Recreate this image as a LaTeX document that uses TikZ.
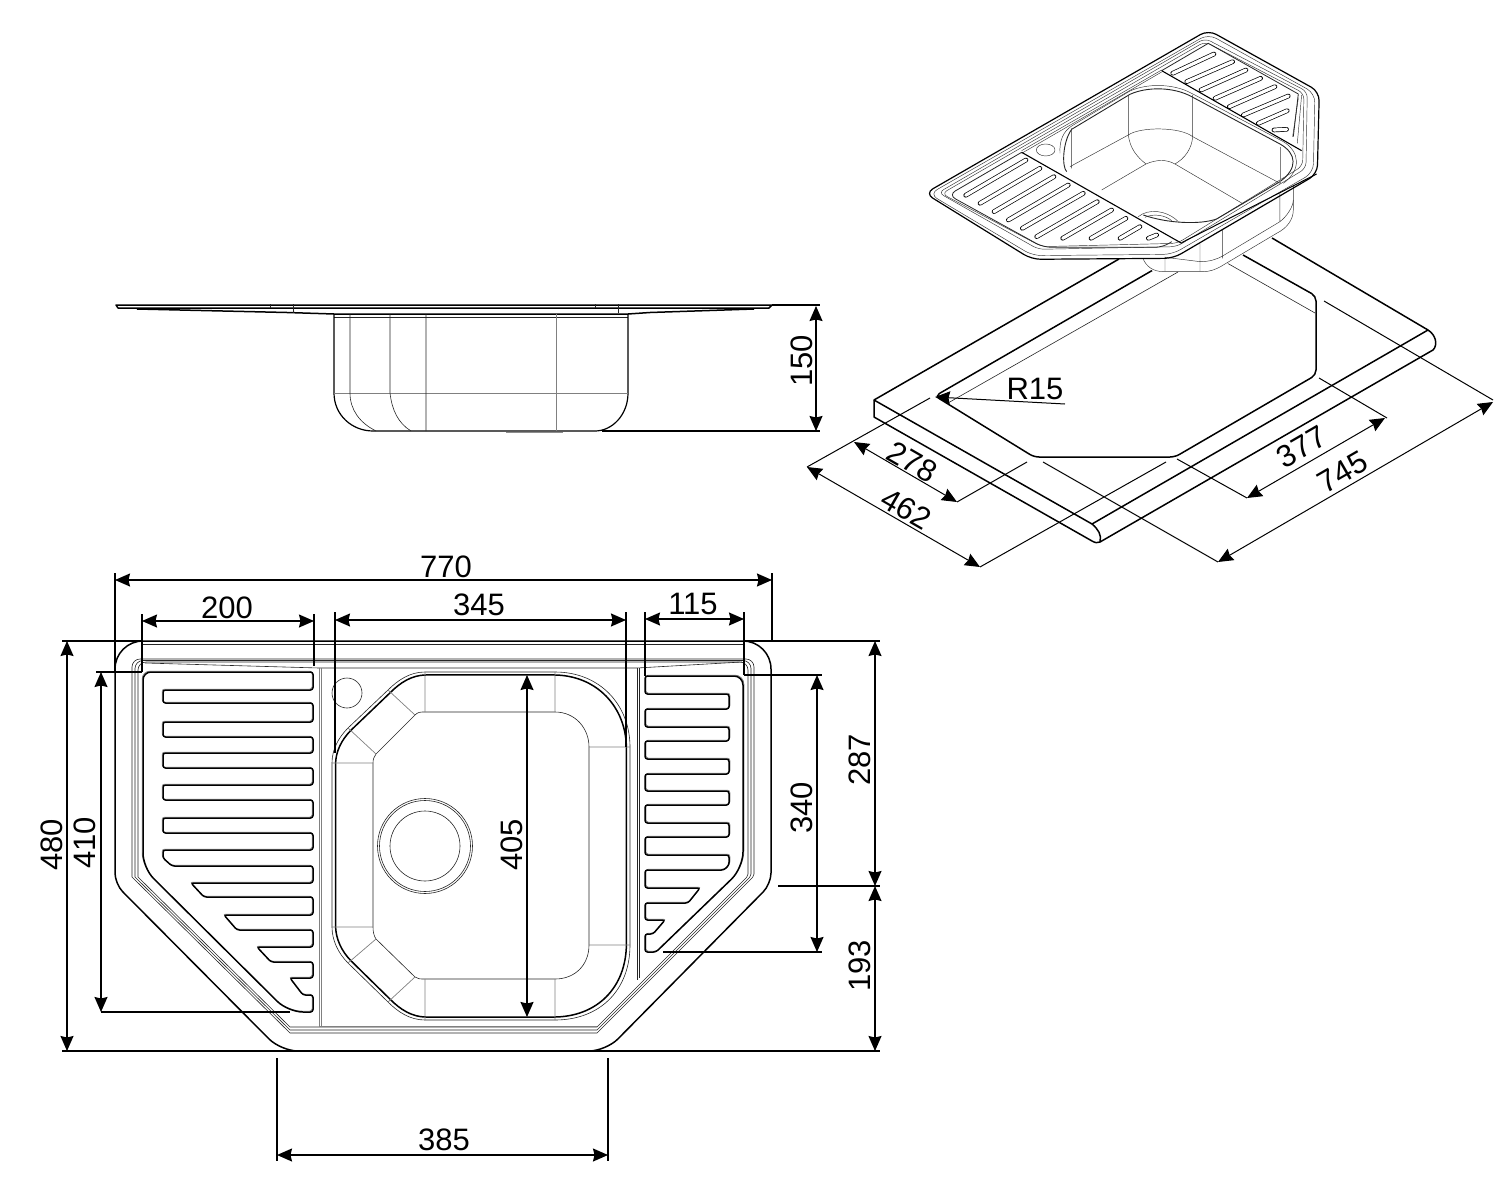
\documentclass[tikz,border=0pt]{standalone}
\usepackage{fontspec}
\setmainfont{Liberation Sans}
\usetikzlibrary{arrows.meta}
\tikzset{
  heavy/.style={line width=1.5pt, black},
  thin line/.style={line width=.6pt, black!85},
  fine line/.style={line width=.45pt, black!80},
  grey line/.style={line width=.7pt, black!50},
  dimline/.style={line width=1.3pt, {Stealth[length=15pt,width=13pt,inset=1.5pt]}-{Stealth[length=15pt,width=13pt,inset=1.5pt]}},
  extline/.style={line width=1.2pt},
  dimtext/.style={inner sep=0pt, font=\fontsize{31}{32}\selectfont},
  slot/.style={double, double distance=3.2pt, line width=.7pt, line cap=round}
}
\newcommand{\leftboard}{(143,682) [rounded corners=8pt] -- (143,672) [rounded corners=2.5pt] -- (313,672) -- (313,690) -- (163,690) -- (163,703) -- (313,703) -- (313,722) -- (163,722) -- (163,737) -- (313,737) -- (313,753) -- (163,753) -- (163,768) -- (313,768) -- (313,785) -- (163,785) -- (163,800) -- (313,800) -- (313,818) -- (163,818) -- (163,833) -- (313,833) -- (313,850) -- (163,850) -- (163,858) -- (172,866) -- (313,866) -- (313,883) -- (191,883) -- (204,897) -- (313,897) -- (313,915) -- (224,915) -- (237,930) -- (313,930) -- (313,947) -- (257,947) -- (271,962) -- (313,962) -- (313,978) -- (290,978) -- (303,995) -- (313,995) -- (313,1012) [rounded corners=15pt] -- (288,1012) -- (143,868) [sharp corners] -- (143,682)}
\newcommand{\rightboard}{(743,690) [rounded corners=9pt] -- (743,676) [rounded corners=2.5pt] -- (645,676) -- (645,694) -- (729,694) -- (729,709) -- (645,709) -- (645,727) -- (729,727) -- (729,741) -- (645,741) -- (645,759) -- (729,759) -- (729,774) -- (645,774) -- (645,791) -- (729,791) -- (729,805) -- (645,805) -- (645,823) -- (729,823) -- (729,837) -- (645,837) -- (645,855) -- (729,855) -- (729,865) -- (724,870) -- (645,870) -- (645,888) -- (700,888) -- (688,903) -- (645,903) -- (645,920) -- (665,920) -- (653,934) -- (645,934) -- (645,952) -- (656,952) [rounded corners=16pt] -- (743,868) [sharp corners] -- (743,690)}
\newcommand{\bowlrim}{(425,672) -- (555,672) .. controls (600,672) and (630,705) .. (630,747) -- (630,945) .. controls (630,990) and (600,1020) .. (555,1020) -- (425,1020) .. controls (410,1020) and (398,1012) .. (388,1002) -- (348,963) .. controls (338,953) and (332,940) .. (332,927) -- (332,763) .. controls (332,750) and (338,738) .. (348,728) -- (388,690) .. controls (398,680) and (410,672) .. (425,672) -- cycle}
\begin{document}
\begin{tikzpicture}[x=1pt, y=-1pt]
  \useasboundingbox (0,0) rectangle (1500,1199);
  % plan
  \draw [heavy] (440,641) [rounded corners=28pt] -- (771,641) [rounded corners=11pt] -- (771,884) [rounded corners=17pt] -- (606,1051) -- (281,1051) [rounded corners=11pt] -- (115,884) [rounded corners=28pt] -- (115,641) [sharp corners] -- (440,641);
  \draw [thin line] (142,644.5) -- (745,644.5);
  \foreach \d in {0,3,6} \draw [thin line] (440,659+\d/2) [rounded corners=8pt] -- (754-\d,659+\d/2) [rounded corners=2pt] -- (754-\d,876) [sharp corners] -- (597,1033-\d) -- (290,1033-\d) -- (132+\d,877) [rounded corners=8pt] -- (132+\d,659+\d/2) [sharp corners] -- (440,659+\d/2);
  \draw [thin line] (145,663) -- (319,668) -- (637,668) -- (742,662);
  \draw [grey line] (319,668) -- (319,1026) (321,668) -- (321,1026);
  \draw [thin line] (637,668) -- (637,980) (639,668) -- (639,978);
  \draw [grey line] (319,1026) -- (597,1026);
  \draw [grey line, transform canvas={shift={(-.9pt,.9pt)}}] \leftboard;
  \draw [heavy] \leftboard;
  \draw [grey line, transform canvas={shift={(.9pt,.9pt)}}] \rightboard;
  \draw [heavy] \rightboard;
  \draw [thin line] \bowlrim;
  \draw [heavy, shift={(481,846)}, xscale=.976, yscale=.983, shift={(-481,-846)}] \bowlrim;
  \draw [thin line] (425,712) -- (555,712) .. controls (575,712) and (589,728) .. (589,747) -- (589,945) .. controls (589,965) and (575,979) .. (555,979) -- (425,979) .. controls (420,979) and (418,979) .. (415,977) -- (376,939) .. controls (374,936) and (373,932) .. (373,927) -- (373,763) .. controls (373,759) and (374,757) .. (376,754) -- (415,715) .. controls (418,712) and (420,712) .. (425,712) -- cycle;
  \draw [grey line] (425,672) -- (425,712) (555,672) -- (555,712) (589,747) -- (630,747) (589,945) -- (630,945) (555,979) -- (555,1020) (425,979) -- (425,1020) (332,763) -- (373,763) (332,927) -- (373,927) (388,690) -- (415,715) (348,728) -- (376,754) (348,963) -- (376,939) (388,1002) -- (415,977);
  \draw [thin line] (425,846) circle [radius=47.5] (425,846) circle [radius=45.5] (425,846) circle [radius=35];
  \draw [thin line] (347,693) circle [radius=15];
  % plan dimensions
  \draw [extline] (115,573) -- (115,672) (772,573) -- (772,641);
  \draw [dimline] (115,580) -- (772,580);
  \node (dim770) [dimtext] at (446,567) {770};
  \draw [extline] (142,614) -- (142,672) (314,614) -- (314,666);
  \draw [dimline] (142,621) -- (314,621);
  \node (dim200) [dimtext] at (227,608) {200};
  \draw [extline] (335,612) -- (335,753) (626,612) -- (626,747);
  \draw [dimline] (335,620) -- (626,620);
  \node (dim345) [dimtext] at (479,605) {345};
  \draw [extline] (645,612) -- (645,676) (744,612) -- (744,675);
  \draw [dimline] (645,619) -- (744,619);
  \node (dim115) [dimtext] at (693,604) {115};
  \draw [extline] (62,641) -- (142,641) (62,1051) -- (880,1051) (96,672) -- (142,672) (101,1012) -- (290,1012);
  \draw [dimline] (67,641) -- (67,1051);
  \node (dim480) [dimtext, rotate=90] at (52,845) {480};
  \draw [dimline] (101,672) -- (101,1012);
  \node (dim410) [dimtext, rotate=90] at (85,843) {410};
  \draw [dimline] (527,675) -- (527,1017);
  \node (dim405) [dimtext, rotate=90] at (512,845) {405};
  \draw [extline] (744,675) -- (822,675) (663,952) -- (822,952) (745,641) -- (880,641) (778,886) -- (880,886);
  \draw [dimline] (817,675) -- (817,952);
  \node (dim340) [dimtext, rotate=90] at (802,808) {340};
  \draw [dimline] (875,641) -- (875,886);
  \node (dim287) [dimtext, rotate=90] at (860,760) {287};
  \draw [dimline] (875,886) -- (875,1051);
  \node (dim193) [dimtext, rotate=90] at (860,966) {193};
  \draw [extline] (277,1058) -- (277,1161) (608,1058) -- (608,1161);
  \draw [dimline] (277,1155) -- (608,1155);
  \node (dim385) [dimtext] at (444,1140) {385};
  % side view
  \draw [heavy, line join=round] (116,305) -- (772,305) -- (769,308) -- (118,308) -- cycle;
  \draw [heavy] (137,309) -- (287,312.5) -- (334,314) -- (628,314) -- (650,312.5) -- (754,309);
  \draw [thin line] (270,304) -- (270,308) (293,304) -- (293,313) (595,304) -- (595,308) (618,304) -- (618,313) (334,317) -- (628,317);
  \draw [heavy, line width=1.2pt] (334,314) -- (334,393) .. controls (334,415) and (352,431) .. (373,431) -- (595,431) .. controls (612,431) and (628,415) .. (628,393) -- (628,314);
  \draw [grey line] (334,393) -- (628,393) (556,314) -- (556,431);
  \draw [thin line] (350,314) -- (350,393) .. controls (350,410) and (360,423) .. (376,431) (390,314) -- (390,393) .. controls (392,410) and (398,423) .. (411,431) (426,314) -- (426,431);
  \draw [line width=1.5pt, black!45] (506,432.5) -- (563,432.5);
  \draw [extline] (772,305) -- (820,305) (602,431) -- (820,431);
  \draw [dimline] (816,306) -- (816,431);
  \node (dim150) [dimtext, rotate=90] at (802,361) {150};
  % worktop
  \draw [heavy, line join=round] (1119,259) -- (874,400) -- (874,417) -- (1092,541) .. controls (1095,543) and (1098,543) .. (1100,542) -- (1433,350) .. controls (1438,345) and (1436,335) .. (1428,330) -- (1272,238);
  \draw [heavy] (874,400) -- (1092,524) .. controls (1098,529) and (1102,535) .. (1100,542) (1092,524) -- (1428,330);
  \draw [heavy, rounded corners=5pt] (1153,270) -- (935,396) -- (1034,457) -- (1175,457) -- (1316,375) -- (1316,296) -- (1243,255);
  \draw [thin line] (948,403) -- (1178,272) (1227,263) -- (1315,313);
  % worktop dimensions
  \draw [extline, line width=1pt] (930,398) -- (807,467) (1166,462) -- (980,567) (1027,462) -- (957,502) (1324,301) -- (1493,400) (1043,462) -- (1218,562) (1319,378) -- (1387,418) (1177,459) -- (1247,498);
  \draw [dimline, line width=1pt] (807,467) -- (980,567);
  \node (dim462) [dimtext, rotate=-30] at (906,509) {462};
  \draw [dimline, line width=1pt] (854,442) -- (957,502);
  \node (dim278) [dimtext, rotate=-30] at (912,462) {278};
  \draw [dimline, line width=1pt] (1218,562) -- (1493,402);
  \node (dim745) [dimtext, rotate=30] at (1343,472) {745};
  \draw [dimline, line width=1pt] (1247,498) -- (1385,418);
  \node (dim377) [dimtext, rotate=30] at (1302,447) {377};
  \node (radius) [dimtext] at (1035,389) {R15};
  \draw [extline, line width=1pt, -{Stealth[length=15pt,width=13pt,inset=1.5pt]}] (1065,404) -- (935,397);
  % sink in perspective
  \begin{scope}[shift={(900,20)}, x=.3333pt, y=-.3333pt]
    \fill [white] (75,520) -- (925,30) -- (1258,215) -- (1252,462) -- (1180,530) -- (1180,570) -- (1130,640) -- (960,745) -- (760,755) -- (720,715) -- (395,718) -- cycle;
    \draw [fine line] (1180,495) -- (1180,570) .. controls (1180,600) and (1160,625) .. (1130,640) -- (970,735) .. controls (950,748) and (930,755) .. (910,755) -- (790,755) .. controls (760,755) and (740,740) .. (730,718);
    \draw [fine line] (1140,520) -- (1140,605) (968,630) -- (968,715) (900,670) -- (900,754) (795,710) -- (795,754) (795,712) -- (900,725) .. controls (930,725) and (950,718) .. (968,708) -- (1140,605) .. controls (1160,590) and (1180,560) .. (1180,540);
    \draw [heavy, line width=1.2pt, rounded corners=9pt] (75,520) -- (925,30) -- (1258,215) -- (1252,462) -- (820,715) -- (395,718) -- cycle;
    \draw [fine line, rounded corners=9pt] (88,522) -- (925,42) -- (1245,220) -- (1240,458) -- (817,703) -- (398,707) -- cycle;
    \draw [fine line, rounded corners=6pt] (115,518) -- (915,55) -- (1222,215) -- (1218,445) -- (830,680) -- (415,688) -- cycle;
    \draw [fine line, rounded corners=6pt] (125,521) -- (915,65) -- (1212,220) -- (1208,438) -- (832,670) -- (425,680) -- cycle;
    \draw [thin line, line width=.8pt, rounded corners=8pt] (365,397) -- (145,525) -- (430,682) -- (790,682) -- (815,665);
    \draw [thin line, line width=.8pt] (785,152) -- (925,70) -- (1195,222) -- (1180,350);
    \draw [fine line] (365,392) -- (785,150) (365,400) -- (785,156);
    \draw [heavy, line width=1.1pt] (365,397) -- (845,670) (785,152) -- (1205,392);
    \draw [fine line] (480,400) .. controls (478,360) and (490,335) .. (515,318) -- (690,213) .. controls (740,190) and (820,190) .. (875,220) -- (1150,365) .. controls (1200,395) and (1205,450) .. (1150,490);
    \draw [thin line, line width=.9pt] (500,455) .. controls (485,440) and (488,365) .. (515,328) -- (690,223) .. controls (740,200) and (820,200) .. (875,230) -- (1140,372) .. controls (1190,400) and (1195,445) .. (1140,485) -- (950,597) .. controls (900,615) and (800,610) .. (730,585);
    \draw [heavy, line width=1pt] (845,668) -- (1250,462);
    \draw [fine line] (515,325) -- (515,445) (685,225) -- (685,345) .. controls (690,385) and (710,410) .. (738,432) (878,225) -- (878,350) .. controls (876,385) and (855,415) .. (825,432) (510,440) -- (685,345) .. controls (720,320) and (840,320) .. (878,350) -- (1140,490) (738,432) -- (605,510) (738,432) .. controls (770,418) and (800,418) .. (825,432) -- (1030,552);
    \draw [grey line] (1140,380) -- (1140,490);
    \draw [fine line] (715,590) .. controls (745,565) and (800,570) .. (835,605) (735,592) .. controls (760,580) and (795,585) .. (815,602);
    \draw [fine line] (437,390) ellipse [x radius=28, y radius=18];
    \foreach \xa/\ya/\xb/\yb in {197/526/378/420, 240/550/420/445, 282/575/462/470, 325/600/505/495, 367/625/550/520, 410/650/592/545, 488/655/635/570, 573/655/678/595, 660/655/720/620, 745/655/770/645}
      \draw [slot] (\xa,\ya) -- (\xb,\yb);
    \foreach \xa/\ya/\xb/\yb in {818/160/942/102, 860/185/998/125, 903/210/1038/150, 945/235/1082/175, 988/260/1125/200, 1030/285/1165/228, 1075/310/1162/272, 1122/330/1160/328}
      \draw [slot] (\xa,\ya) -- (\xb,\yb);
    \draw [fine line] (1195,235) -- (1178,350) (1205,225) -- (1192,370);
  \end{scope}
\end{tikzpicture}
\end{document}
